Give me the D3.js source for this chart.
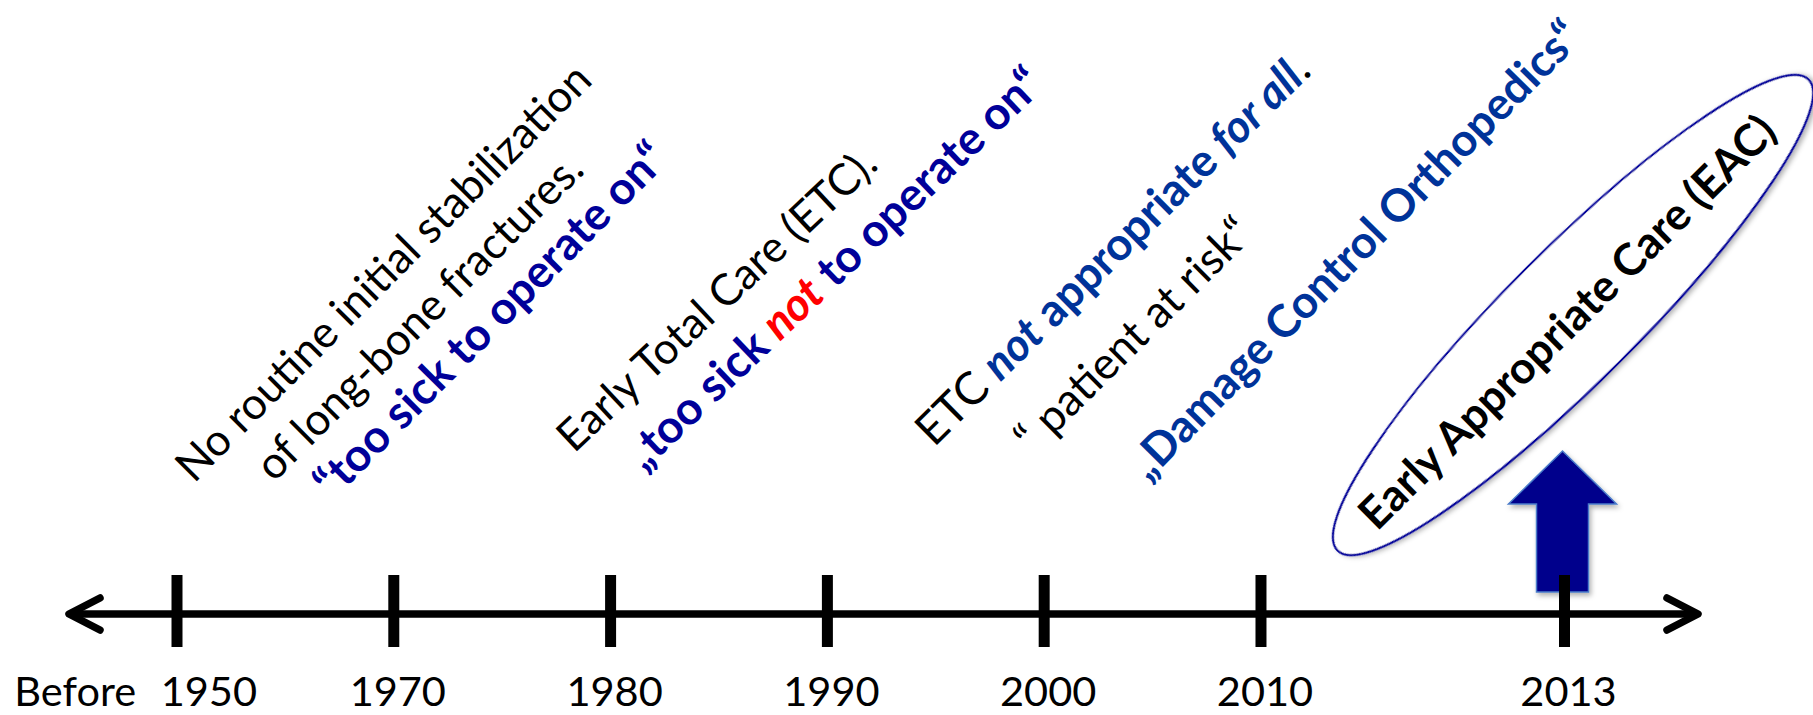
<!DOCTYPE html>
<html>
<head>
<meta charset="utf-8">
<script src="https://cdn.jsdelivr.net/npm/d3@7"></script>
<style>
  html, body { margin: 0; padding: 0; background: #ffffff; }
  svg { display: block; }
</style>
</head>
<body>
<svg id="chart" width="1813" height="715"></svg>
<script>
// ---- timeline data ----
const years = [1950, 1970, 1980, 1990, 2000, 2010, 2013];
const tickLabels = ["Before 1950", "1970", "1980", "1990", "2000", "2010", "2013"];
const highlightYear = 2013;

// ---- annotation text, one entry per line, each line a list of [text, style] runs ----
const eraNoFixation = [
  [["No routine initial stabilization", "plain"]],
  [["of long-bone fractures.", "plain"]],
  [["\u201Ctoo sick to operate on\u201C", "navy"]]
];
const eraTotalCare = [
  [["Early Total Care (ETC).", "plain"]],
  [["\u201Etoo sick ", "navy"], ["not", "red"], [" to operate on\u201C", "navy"]]
];
const eraDamageControl = [
  [["ETC ", "plain"], ["not", "blueItalic"], [" appropriate ", "blue"], ["for all", "blueItalic"], [".", "plain"]],
  [["\u201C patient at risk\u201C", "plain"]],
  [["\u201EDamage Control Orthopedics\u201C", "blue"]]
];
const eraAppropriate = [
  [["Early Appropriate Care (EAC)", "bold"]]
];

// ---- styles ----
const FONT = "Lato, 'Open Sans', 'DejaVu Sans', sans-serif";
const runStyles = {
  plain:      { weight: 400, style: "normal", fill: "#000000" },
  bold:       { weight: 700, style: "normal", fill: "#000000" },
  navy:       { weight: 700, style: "normal", fill: "#000099" },
  red:        { weight: 700, style: "italic", fill: "#ff0000" },
  blue:       { weight: 700, style: "normal", fill: "#003399" },
  blueItalic: { weight: 700, style: "italic", fill: "#003399" }
};

const svg = d3.select("#chart");
const defs = svg.append("defs");
const shadow = defs.append("filter").attr("id", "soft-shadow")
  .attr("x", "-20%").attr("y", "-20%").attr("width", "140%").attr("height", "140%");
shadow.append("feDropShadow")
  .attr("dx", 2).attr("dy", 3).attr("stdDeviation", 2.5)
  .attr("flood-color", "#000").attr("flood-opacity", 0.3);

// ---- x position along the timeline: one slot per decade, a shorter gap before 2013 ----
const lastGap = 1.4;
const slotOf = (yr, i) => (i < years.length - 1 ? i : (years.length - 2) + lastGap);
const slotScale = d3.scaleLinear().domain([0, slotOf(2013, years.length - 1)]).range([177, 1564.5]);
const xPos = new Map(years.map((yr, i) => [yr, slotScale(slotOf(yr, i))]));
const x = yr => xPos.get(yr);

const axisY = 614;

// ---- highlight arrow pointing at the newest concept ----
const ax = x(highlightYear) - 2;
const arrowPts = [
  [ax, 451], [ax + 54, 504], [ax + 26, 504], [ax + 26, 592],
  [ax - 26, 592], [ax - 26, 504], [ax - 54, 504]
];
svg.append("path")
  .attr("d", d3.line()(arrowPts) + "Z")
  .attr("fill", "#00008c")
  .attr("stroke", "#4a7cc9")
  .attr("stroke-width", 1.5)
  .attr("filter", "url(#soft-shadow)");

// ---- ellipse around EAC ----
const ell = { cx: 1573, cy: 315, rx: 333, ry: 66 };
svg.append("ellipse")
  .attr("cx", ell.cx).attr("cy", ell.cy)
  .attr("rx", ell.rx).attr("ry", ell.ry)
  .attr("transform", `rotate(-45, ${ell.cx}, ${ell.cy})`)
  .attr("fill", "#ffffff")
  .attr("stroke", "#000099")
  .attr("stroke-width", 2.2)
  .attr("filter", "url(#soft-shadow)");

// ---- axis line with open arrow heads ----
const axisLeft = 69, axisRight = 1698;
const axisG = svg.append("g")
  .attr("stroke", "#000")
  .attr("stroke-width", 7.5)
  .attr("fill", "none")
  .attr("stroke-linecap", "round")
  .attr("stroke-linejoin", "round");
axisG.append("line")
  .attr("x1", axisLeft).attr("x2", axisRight)
  .attr("y1", axisY).attr("y2", axisY)
  .attr("stroke-linecap", "butt");
axisG.append("path")
  .attr("d", d3.line()([[axisLeft + 31, axisY - 16], [axisLeft, axisY], [axisLeft + 31, axisY + 16]]));
axisG.append("path")
  .attr("d", d3.line()([[axisRight - 31, axisY - 16], [axisRight, axisY], [axisRight - 31, axisY + 16]]));

// ---- ticks ----
svg.append("g").selectAll("line")
  .data(years)
  .join("line")
  .attr("x1", d => x(d)).attr("x2", d => x(d))
  .attr("y1", axisY - 39).attr("y2", axisY + 33)
  .attr("stroke", "#000")
  .attr("stroke-width", 11);

// ---- tick labels ----
svg.append("g").selectAll("text")
  .data(years.map((yr, i) => ({ yr, label: tickLabels[i], i })))
  .join("text")
  .attr("x", d => d.i === 0 ? x(d.yr) + 80 : x(d.yr) + 4)
  .attr("y", 706)
  .attr("text-anchor", d => d.i === 0 ? "end" : "middle")
  .attr("word-spacing", d => d.i === 0 ? 14 : 0)
  .attr("font-family", FONT)
  .attr("font-size", 41.5)
  .attr("fill", "#000")
  .text(d => d.label);

// ---- rotated annotation lines: baseline from start point o to end point e ----
function drawLines(lines, placement) {
  lines.forEach((runs, i) => {
    const [o, e] = placement[i];
    const cxp = (o[0] + e[0]) / 2, cyp = (o[1] + e[1]) / 2;
    const len = Math.hypot(e[0] - o[0], e[1] - o[1]) + 3;
    const ang = Math.atan2(e[1] - o[1], e[0] - o[0]) * 180 / Math.PI;
    const t = svg.append("text")
      .attr("transform", `translate(${cxp},${cyp}) rotate(${ang})`)
      .attr("text-anchor", "middle")
      .attr("font-family", FONT)
      .attr("font-size", 42);
    runs.forEach(([txt, key]) => {
      const st = runStyles[key];
      t.append("tspan")
        .attr("font-weight", st.weight)
        .attr("font-style", st.style)
        .attr("fill", st.fill)
        .text(txt);
    });
    const natural = t.node().getComputedTextLength();
    t.attr("font-size", 42 * len / natural);
  });
}

drawLines(eraNoFixation, [
  [[195, 483], [593, 83]],
  [[275, 482], [585, 173]],
  [[334, 500], [669, 162]]
]);
drawLines(eraTotalCare, [
  [[575, 453], [879, 168]],
  [[645, 471], [1045, 88]]
]);
drawLines(eraDamageControl, [
  [[935, 447], [1312, 74]],
  [[1034, 455], [1254, 237]],
  [[1149, 481], [1583, 40]]
]);
drawLines(eraAppropriate, [
  [[1378, 531], [1778, 135]]
]);
</script>
</body>
</html>
